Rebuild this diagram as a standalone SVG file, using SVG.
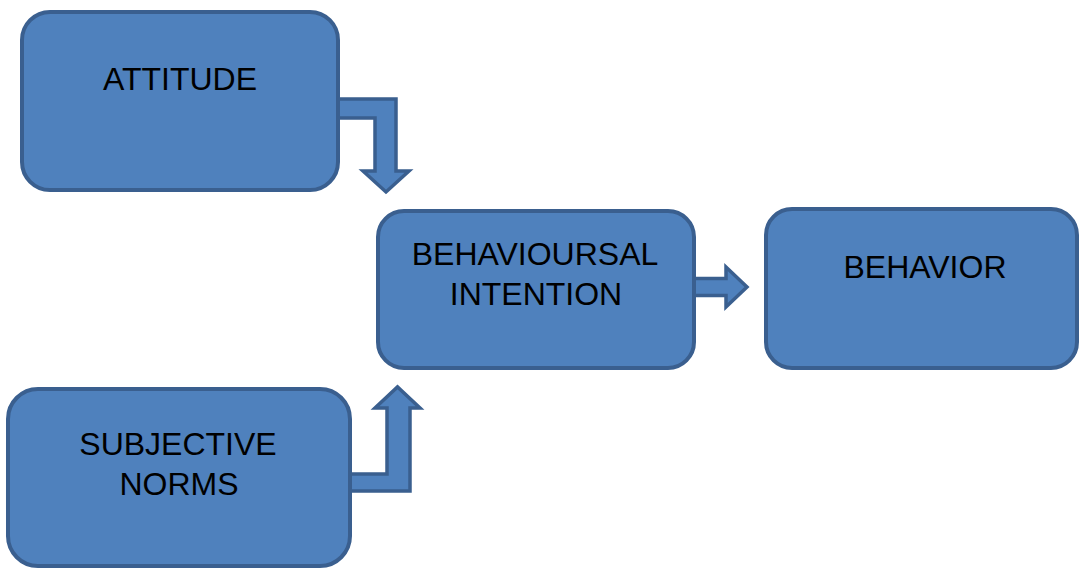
<svg xmlns="http://www.w3.org/2000/svg" width="1079" height="569" viewBox="0 0 1079 569">
<style>
.box{fill:#4F81BD;stroke:#3A5F8F;stroke-width:4}
.arr{fill:#4F81BD;stroke:#3A5F8F;stroke-width:3.5;stroke-linejoin:miter}
.t{font-family:"Liberation Sans",Arial,sans-serif;font-size:32px;fill:#000;text-anchor:middle}
</style>
<rect width="1079" height="569" fill="#fff"/>
<g id="connectors">
<path class="arr" d="M334,99 H396 V171 H409 L386,192 L363,171 H375 V118 H334 Z"/>
<path class="arr" d="M346,491 H410 V408 H420 L397.5,387 L375,408 H387 V474 H346 Z"/>
<path class="arr" d="M690,278.5 H726 V267 L747,287 L726,307 V295.5 H690 Z"/>
</g>
<g id="attitude">
<rect class="box" x="22" y="12" width="316" height="178" rx="28"/>
<text class="t" x="180" y="90">ATTITUDE</text>
</g>
<g id="intention">
<rect class="box" x="378" y="211" width="316" height="157" rx="26"/>
<text class="t" x="535" y="265">BEHAVIOURSAL</text>
<text class="t" x="536" y="305">INTENTION</text>
</g>
<g id="behavior">
<rect class="box" x="766" y="209" width="311" height="159" rx="26"/>
<text class="t" x="925" y="278">BEHAVIOR</text>
</g>
<g id="subjective">
<rect class="box" x="8" y="389" width="342" height="177" rx="30"/>
<text class="t" x="178" y="455">SUBJECTIVE</text>
<text class="t" x="179" y="495">NORMS</text>
</g>
</svg>
